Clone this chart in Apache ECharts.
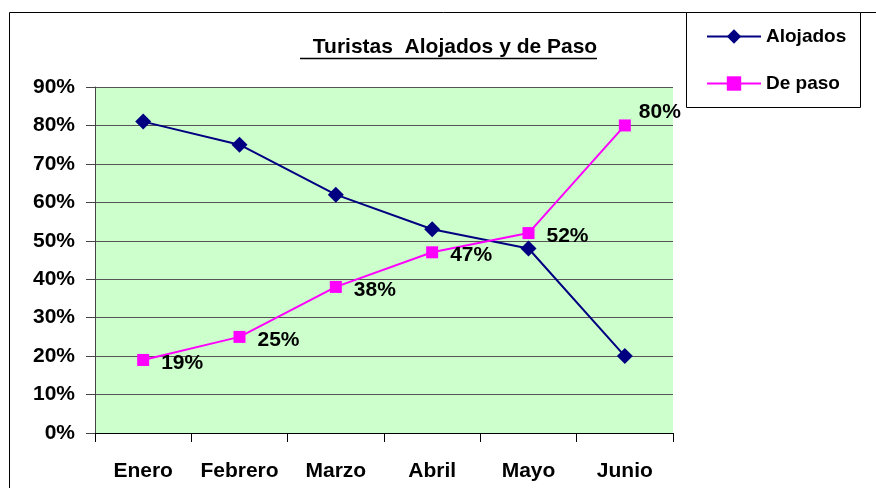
<!DOCTYPE html>
<html>
<head>
<meta charset="utf-8">
<script src="https://cdn.jsdelivr.net/npm/echarts@6/dist/echarts.min.js"></script>
<style>
  html, body { margin: 0; padding: 0; background: #fff; }
  #chart { width: 876px; height: 488px; }
</style>
</head>
<body>
<div id="chart"></div>
<script>
const months = ['Enero', 'Febrero', 'Marzo', 'Abril', 'Mayo', 'Junio']
const alojados = [81, 75, 62, 53, 48, 20]
const dePaso = [19, 25, 38, 47, 52, 80]

const font = '"Liberation Sans Narrow", "Liberation Sans", Arial, sans-serif'

const chart = echarts.init(document.getElementById('chart'))

// last label sits above-right of its point, like in the original
const dePasoData = dePaso.map((v, i) => i === dePaso.length - 1
  ? { value: v, label: { offset: [-4, -13] } }
  : v)

chart.setOption({
  animation: false,
  textStyle: { fontFamily: font },
  title: {
    text: 'Turistas  Alojados y de Paso',
    left: 450,
    textAlign: 'center',
    top: 32,
    textStyle: { fontSize: 21, fontWeight: 'bold', color: '#000', fontFamily: font }
  },
  graphic: [
    // outer chart frame
    { type: 'rect', shape: { x: 9.5, y: 12.5, width: 900, height: 500 },
      style: { fill: 'none', stroke: '#000', lineWidth: 1 }, z: -1 },
    // legend box
    { type: 'rect', shape: { x: 686.5, y: 12.5, width: 174, height: 95 },
      style: { fill: '#fff', stroke: '#000', lineWidth: 1 }, z: 0 },
    // title underline
    { type: 'line', shape: { x1: 300, y1: 58.5, x2: 597, y2: 58.5 },
      style: { stroke: '#000', lineWidth: 1.5 } }
  ],
  legend: {
    orient: 'vertical',
    left: 701,
    top: 22,
    itemWidth: 54,
    itemHeight: 18,
    itemGap: 28,
    textStyle: { fontSize: 19, fontWeight: 'bold', color: '#000', fontFamily: font },
    data: ['Alojados', 'De paso'],
    z: 5
  },
  grid: { left: 95, top: 87, right: 203, bottom: 55, containLabel: false,
    show: true, backgroundColor: '#CCFFCC', borderWidth: 0 },
  xAxis: {
    type: 'category',
    data: months,
    boundaryGap: true,
    axisLine: { lineStyle: { color: '#000', width: 1 } },
    axisTick: { show: true, interval: 0, length: 9, lineStyle: { color: '#000' } },
    axisLabel: { interval: 0, margin: 28, fontSize: 21, fontWeight: 'bold', color: '#000', fontFamily: font },
    splitLine: { show: false }
  },
  yAxis: {
    type: 'value',
    min: 0,
    max: 90,
    interval: 10,
    axisLine: { show: true, lineStyle: { color: '#444', width: 1 } },
    axisTick: { show: true, length: 9, lineStyle: { color: '#444' } },
    axisLabel: { margin: 20, fontSize: 21, fontWeight: 'bold', color: '#000', fontFamily: font,
      formatter: '{value}%' },
    splitLine: { show: true, lineStyle: { color: '#555', width: 1 } }
  },
  series: [
    {
      name: 'Alojados',
      type: 'line',
      data: alojados,
      color: '#000080',
      symbol: 'diamond',
      symbolSize: 16,
      lineStyle: { color: '#000080', width: 2 },
      itemStyle: { color: '#000080' }
    },
    {
      name: 'De paso',
      type: 'line',
      data: dePasoData,
      color: '#FF00FF',
      symbol: 'rect',
      symbolSize: 12,
      lineStyle: { color: '#FF00FF', width: 2 },
      itemStyle: { color: '#FF00FF' },
      label: {
        show: true,
        position: 'right',
        distance: 12,
        offset: [0, 3],
        formatter: '{c}%',
        fontSize: 21,
        fontWeight: 'bold',
        color: '#000',
        fontFamily: font
      }
    }
  ]
})
</script>
</body>
</html>
